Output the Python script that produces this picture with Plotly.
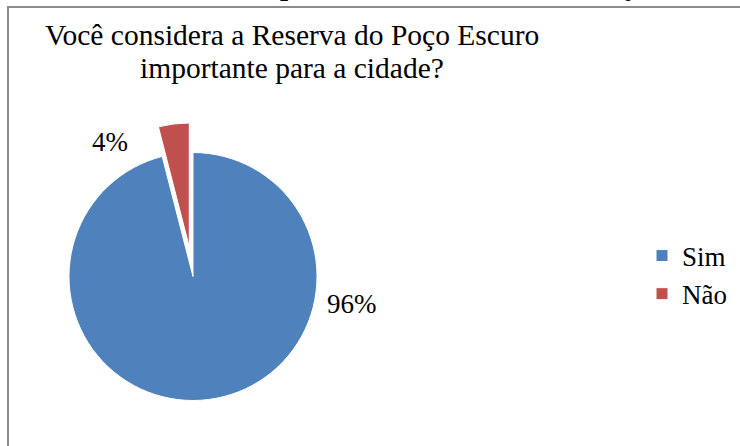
import plotly.graph_objects as go

labels = ["Sim", "Não"]
values = [96, 4]
colors = ["#4F81BD", "#C0504D"]
pulls = [0, 0.24]
title_lines = ["Você considera a Reserva do Poço Escuro", "importante para a cidade?"]
caption_text = "Gráfico 7 - Sobre a importância da Reserva do Poço Escuro"

SERIF = "'Liberation Serif', 'Times New Roman', Times, serif"
W, H = 740, 446
cx, cy, r = 193, 276.5, 124
half = r * (1 + max(pulls))

fig = go.Figure(go.Pie(
    labels=labels, values=values, sort=False, direction="clockwise", rotation=0,
    pull=pulls, textinfo="none", hoverinfo="label+percent",
    marker=dict(colors=colors, line=dict(color="white", width=1)),
    domain=dict(x=[(cx - half) / W, (cx + half) / W],
                y=[(H - cy - half) / H, (H - cy + half) / H]),
))

total = sum(values)
pct = [f"{round(v / total * 100)}%" for v in values]
label_pos = [(352, 304), (110, 142)]
for t, (px, py) in zip(pct, label_pos):
    fig.add_annotation(x=px / W, y=1 - py / H, xref="paper", yref="paper",
                       text=t, showarrow=False, xanchor="center", yanchor="middle",
                       font=dict(family=SERIF, size=27, color="#000"))

# chart title (two centred lines)
for line, py in zip(title_lines, [35, 68]):
    fig.add_annotation(x=292 / W, y=1 - py / H, xref="paper", yref="paper",
                       text=line, showarrow=False, xanchor="center", yanchor="middle",
                       font=dict(family=SERIF, size=29.5, color="#000"))

# document caption, cut off at the top edge as in the source
fig.add_annotation(x=4 / W, y=1 + 15 / H, xref="paper", yref="paper",
                   text="<b>" + caption_text + "</b>", showarrow=False,
                   xanchor="left", yanchor="middle",
                   font=dict(family=SERIF, size=29, color="#000"))

fig.add_shape(type="rect", xref="paper", yref="paper",
              x0=8 / W, x1=1.05, y0=-0.05, y1=1 - 7 / H,
              line=dict(color="#8c8c8c", width=2), fillcolor="rgba(0,0,0,0)")

fig.update_layout(
    width=W, height=H,
    margin=dict(l=0, r=0, t=0, b=0),
    paper_bgcolor="white", plot_bgcolor="white",
    legend=dict(x=642 / W, y=1 - 275 / H, xanchor="left", yanchor="middle",
                font=dict(family=SERIF, size=27, color="#000"),
                bgcolor="rgba(0,0,0,0)"),
    showlegend=True,
)

fig.write_html("out.html")
